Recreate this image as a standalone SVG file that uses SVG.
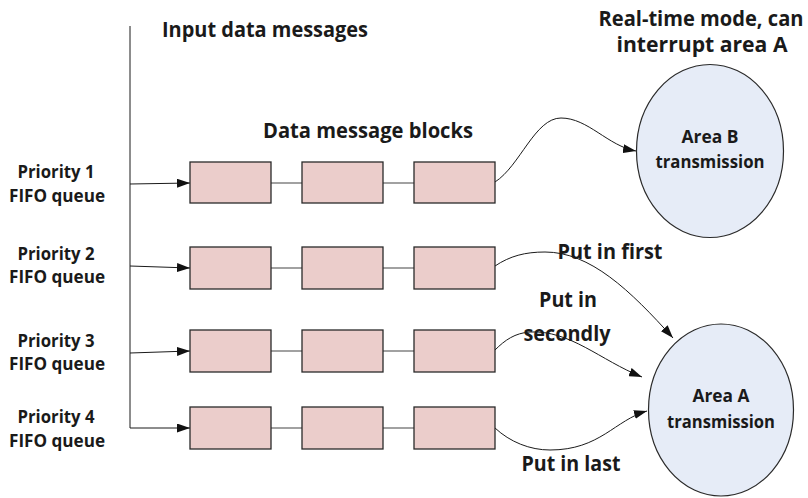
<svg xmlns="http://www.w3.org/2000/svg" width="808" height="498" viewBox="0 0 808 498">
  <defs>
    <marker id="arrow" viewBox="0 0 13 9" refX="13" refY="4.5" markerWidth="13" markerHeight="9" markerUnits="userSpaceOnUse" orient="auto">
      <path d="M0,0 L13,4.5 L0,9 Z" fill="#111"/>
    </marker>
  </defs>
  <style>
    text { font-family: "Open Sans", "Noto Sans", sans-serif; font-weight: 700; fill: #1a1a1a; }
    .lbl { font-size: 18.5px; text-anchor: middle; }
    .title { font-size: 21.5px; }
    .mid { text-anchor: middle; }
    .blk { fill: #ebcdcb; stroke: #2a2a2a; stroke-width: 1.3; }
    .area { fill: #e6ecf7; stroke: #2a2a2a; stroke-width: 1.2; }
    .link { stroke: #444; stroke-width: 1.2; fill: none; }
    .conn { stroke: #1a1a1a; stroke-width: 1; fill: none; }
  </style>

  <rect width="808" height="498" fill="#ffffff"/>

  <!-- titles -->
  <text class="title" x="162" y="37" textLength="206" lengthAdjust="spacingAndGlyphs">Input data messages</text>
  <text class="title" x="263" y="138" textLength="210" lengthAdjust="spacingAndGlyphs">Data message blocks</text>
  <text class="title mid" x="701" y="26" textLength="205" lengthAdjust="spacingAndGlyphs">Real-time mode, can</text>
  <text class="title mid" x="702" y="52" textLength="171" lengthAdjust="spacingAndGlyphs">interrupt area A</text>

  <!-- queue labels -->
  <g id="label-p1"><text class="lbl" x="56" y="178" textLength="77" lengthAdjust="spacingAndGlyphs">Priority 1</text><text class="lbl" x="57" y="202" textLength="96" lengthAdjust="spacingAndGlyphs">FIFO queue</text></g>
  <g id="label-p2"><text class="lbl" x="56" y="260" textLength="77" lengthAdjust="spacingAndGlyphs">Priority 2</text><text class="lbl" x="57" y="283" textLength="96" lengthAdjust="spacingAndGlyphs">FIFO queue</text></g>
  <g id="label-p3"><text class="lbl" x="56" y="347" textLength="77" lengthAdjust="spacingAndGlyphs">Priority 3</text><text class="lbl" x="57" y="370" textLength="96" lengthAdjust="spacingAndGlyphs">FIFO queue</text></g>
  <g id="label-p4"><text class="lbl" x="56" y="423" textLength="77" lengthAdjust="spacingAndGlyphs">Priority 4</text><text class="lbl" x="57" y="447" textLength="96" lengthAdjust="spacingAndGlyphs">FIFO queue</text></g>

  <!-- connectors -->
  <g id="connectors">
    <!-- input bus -->
    <path class="conn" d="M130,26 V428"/>
    <path class="conn" d="M130,184 L190,183" marker-end="url(#arrow)"/>
    <path class="conn" d="M130,266 L190,268" marker-end="url(#arrow)"/>
    <path class="conn" d="M130,353 L190,351" marker-end="url(#arrow)"/>
    <path class="conn" d="M130,428 L190,428" marker-end="url(#arrow)"/>
    <!-- links between blocks -->
    <path class="link" d="M271,183 H302 M383,183 H414"/>
    <path class="link" d="M271,268 H302 M383,268 H414"/>
    <path class="link" d="M271,351 H302 M383,351 H414"/>
    <path class="link" d="M271,428 H302 M383,428 H414"/>
    <!-- outputs -->
    <path class="conn" d="M495,182 C520,166 535,118 561,118 C588,118 608,146 636,151" marker-end="url(#arrow)"/>
    <path class="conn" d="M495,266 C510,256 525,252 545,252 C590,252 630,290 673,338" marker-end="url(#arrow)"/>
    <path class="conn" d="M495,350 C505,340 515,333 530,332 C570,330 600,360 642,377" marker-end="url(#arrow)"/>
    <path class="conn" d="M495,428 C510,442 530,450 550,450 C600,450 615,420 647,411" marker-end="url(#arrow)"/>
  </g>

  <!-- data message blocks -->
  <g id="row1">
    <rect class="blk" x="190" y="162" width="81" height="41"/>
    <rect class="blk" x="302" y="162" width="81" height="41"/>
    <rect class="blk" x="414" y="162" width="81" height="41"/>
  </g>
  <g id="row2">
    <rect class="blk" x="190" y="247" width="81" height="42"/>
    <rect class="blk" x="302" y="247" width="81" height="42"/>
    <rect class="blk" x="414" y="247" width="81" height="42"/>
  </g>
  <g id="row3">
    <rect class="blk" x="190" y="330" width="81" height="42"/>
    <rect class="blk" x="302" y="330" width="81" height="42"/>
    <rect class="blk" x="414" y="330" width="81" height="42"/>
  </g>
  <g id="row4">
    <rect class="blk" x="190" y="407" width="81" height="42"/>
    <rect class="blk" x="302" y="407" width="81" height="42"/>
    <rect class="blk" x="414" y="407" width="81" height="42"/>
  </g>

  <!-- transmission areas -->
  <g id="area-b">
    <ellipse class="area" cx="710" cy="151" rx="73.5" ry="86.5"/>
    <text class="lbl" x="710" y="143" textLength="57" lengthAdjust="spacingAndGlyphs">Area B</text>
    <text class="lbl" x="710" y="168" textLength="109" lengthAdjust="spacingAndGlyphs">transmission</text>
  </g>
  <g id="area-a">
    <ellipse class="area" cx="721" cy="410" rx="72.5" ry="86"/>
    <text class="lbl" x="721" y="402" textLength="57" lengthAdjust="spacingAndGlyphs">Area A</text>
    <text class="lbl" x="721" y="428" textLength="108" lengthAdjust="spacingAndGlyphs">transmission</text>
  </g>

  <!-- connector labels -->
  <text class="title mid" x="610" y="259" textLength="105" lengthAdjust="spacingAndGlyphs">Put in first</text>
  <text class="title mid" x="568" y="307" textLength="58" lengthAdjust="spacingAndGlyphs">Put in</text>
  <text class="title mid" x="567" y="341" textLength="87" lengthAdjust="spacingAndGlyphs">secondly</text>
  <text class="title mid" x="571" y="471" textLength="99" lengthAdjust="spacingAndGlyphs">Put in last</text>
</svg>
